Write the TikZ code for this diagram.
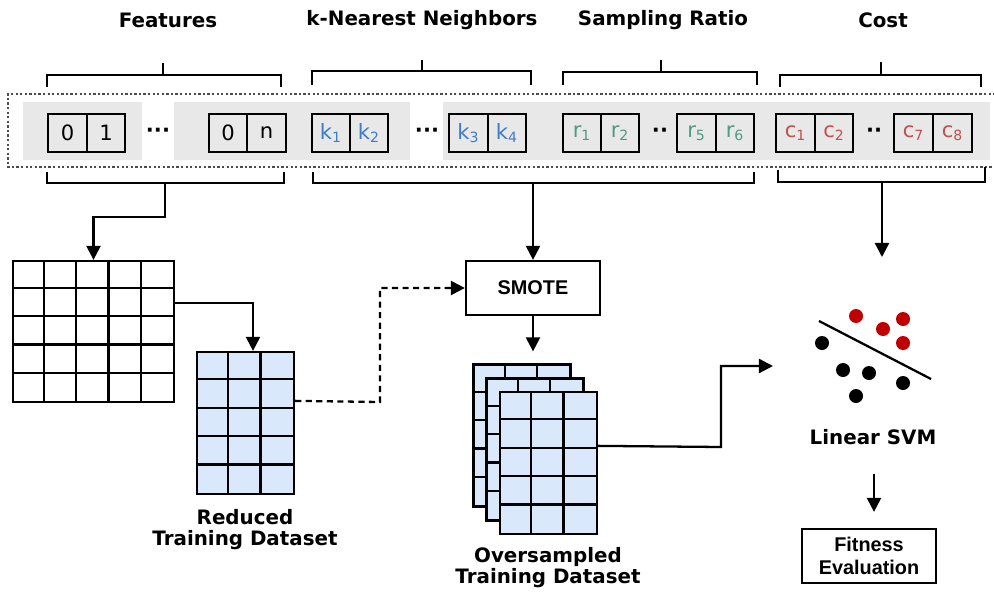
\documentclass[tikz,border=0pt]{standalone}
\usepackage{fontspec}
\setmainfont{DejaVu Sans}
\newfontfamily\boxfont{Liberation Sans}
\usetikzlibrary{arrows.meta,calc,positioning}

\definecolor{bandgray}{HTML}{E8E8E8}
\definecolor{tblblue}{HTML}{DAE8FC}
\definecolor{kblue}{HTML}{3D7CC9}
\definecolor{rgreen}{HTML}{4E9A82}
\definecolor{cred}{HTML}{C0504D}
\definecolor{dotred}{HTML}{C00000}

\tikzset{
  arr/.style={line width=1.3pt,-{Triangle[length=8pt,width=8pt]}},
  brk/.style={line width=1.3pt},
  cell/.style={draw,line width=1.3pt,minimum width=0.77cm,minimum height=0.76cm,inner sep=0pt,font=\fontsize{12}{13}\selectfont},
  ttl/.style={font=\bfseries\fontsize{11.3}{12}\selectfont,align=center},
  tbl/.style={draw,line width=1.3pt,inner sep=0pt},
  proc/.style={draw,line width=1.3pt,minimum width=2.68cm,minimum height=1.08cm,align=center,font=\boxfont\bfseries\fontsize{11.3}{13}\selectfont},
}

\begin{document}
\begin{tikzpicture}[x=0.02cm,y=-0.02cm]
\useasboundingbox (0,0) rectangle (994,592);

% titles
\node[ttl] (feat) at (168,20) {Features};
\node[ttl] (knn) at (422,20) {k-Nearest Neighbors};
\node[ttl] (ratio) at (663,20) {Sampling Ratio};
\node[ttl] (cost) at (883,20) {Cost};

% top brackets
\draw[brk] (47,87) -- (47,75) -- (281,75) -- (281,87) (163,75) -- (163,63);
\draw[brk] (312,85) -- (312,71) -- (531,71) -- (531,85) (422,71) -- (422,60);
\draw[brk] (563,85) -- (563,72) -- (757,72) -- (757,85) (661,72) -- (661,60);
\draw[brk] (780,87) -- (780,75) -- (981,75) -- (981,87) (881,75) -- (881,62);

% chromosome
\fill[bandgray] (23,102) rectangle (142,160);
\fill[bandgray] (174,102) rectangle (410,160);
\fill[bandgray] (443,102) rectangle (990,160);
\draw[line width=1.4pt,dash pattern=on 1.3pt off 1.3pt,black!70] (1000,94) -- (8,94) -- (8,167) -- (1000,167);

\node[cell] (f1) at (67.5,133) {0};
\node[cell] (f2) at (106,133) {1};
\node (fdots) at (158,133) {\bfseries\large ···};
\node[cell] (f3) at (228,133) {0};
\node[cell] (f4) at (266.5,133) {n};

\node[cell,text=kblue] (k1) at (331,133) {k\textsubscript{1}};
\node[cell,text=kblue] (k2) at (369,133) {k\textsubscript{2}};
\node (kdots) at (427,133) {\bfseries\large ···};
\node[cell,text=kblue] (k3) at (468.5,133) {k\textsubscript{3}};
\node[cell,text=kblue] (k4) at (507,133) {k\textsubscript{4}};

\node[cell,text=rgreen] (r1) at (582,133) {r\textsubscript{1}};
\node[cell,text=rgreen] (r2) at (620,133) {r\textsubscript{2}};
\node (rdots) at (660,133) {\bfseries\large ··};
\node[cell,text=rgreen] (r5) at (696.5,133) {r\textsubscript{5}};
\node[cell,text=rgreen] (r6) at (735,133) {r\textsubscript{6}};

\node[cell,text=cred] (c1) at (795.5,133) {c\textsubscript{1}};
\node[cell,text=cred] (c2) at (834,133) {c\textsubscript{2}};
\node (cdots) at (874,133) {\bfseries\large ··};
\node[cell,text=cred] (c7) at (913.5,133) {c\textsubscript{7}};
\node[cell,text=cred] (c8) at (952.5,133) {c\textsubscript{8}};

% bottom brackets
\draw[brk] (47,172) -- (47,183) -- (284,183) -- (284,172);
\draw[brk] (313,172) -- (313,183) -- (754,183) -- (754,172);
\draw[brk] (778,170) -- (778,182) -- (985,182) -- (985,167);
\coordinate (fb) at (165,183);
\coordinate (kb) at (533,183);
\coordinate (cb) at (882,182);

% datasets
\node[tbl,minimum width=3.22cm,minimum height=2.82cm] (big) at (93.5,331.5) {};
\foreach \i in {1,...,4} {
  \draw[brk] ($(big.north west)+(\i*32.2,0)$) -- ($(big.south west)+(\i*32.2,0)$);
  \draw[brk] ($(big.north west)+(0,\i*28.2)$) -- ($(big.north east)+(0,\i*28.2)$);
}
\foreach \t/\x/\y in {red/245.5/423,os3/522/435.5,os2/535/449.5,os1/548.5/463} {
  \node[tbl,fill=tblblue,minimum width=1.94cm,minimum height=2.84cm] (\t) at (\x,\y) {};
  \foreach \i in {1,2}
    \draw[brk] ($(\t.north west)+(\i*32.33,0)$) -- ($(\t.south west)+(\i*32.33,0)$);
  \foreach \j in {1,...,4}
    \draw[brk] ($(\t.north west)+(0,\j*28.4)$) -- ($(\t.north east)+(0,\j*28.4)$);
}
\node[ttl] (redlbl) at (245,530) {Reduced\\Training Dataset};
\node[ttl] (oslbl) at (548,568) {Oversampled\\Training Dataset};

\node[proc] (smote) at (533,288) {SMOTE};
\node[ttl] (svm) at (873,437) {Linear SVM};
\node[proc] (fitn) at (869,556) {Fitness\\Evaluation};
\coordinate (svmin) at (773,366);
\coordinate (svmtop) at (882,257);

% svm sketch
\draw[line width=1.3pt] (819,321) -- (931,379);
\foreach \p in {(856,316),(883,329),(903,319),(903,343)}
  \fill[dotred] \p circle[radius=0.14cm];
\foreach \p in {(822,343),(843,370),(869,373),(903,383),(856,396)}
  \fill \p circle[radius=0.14cm];

% flow
\draw[arr] (fb) -- ++(0,34) -| (big.north);
\draw[arr] ($(big.north east)+(0,43)$) -| ($(red.north)+(7.5,0)$);
\draw[arr,dash pattern=on 3.5pt off 2.5pt] ($(red.north east)+(0,50)$) -- (380,402) |- (smote.west);
\draw[arr] (kb) -- (smote.north);
\draw[arr] (smote.south) -- ($(os3.north)+(11,-12)$);
\draw[arr] ($(os1.north east)+(0,55)$) -- (721,447) |- (svmin);
\draw[arr] (cb) -- (svmtop);
\draw[arr] ($(svm)+(1,37)$) -- ($(fitn.north)+(5,-16)$);
\end{tikzpicture}
\end{document}
